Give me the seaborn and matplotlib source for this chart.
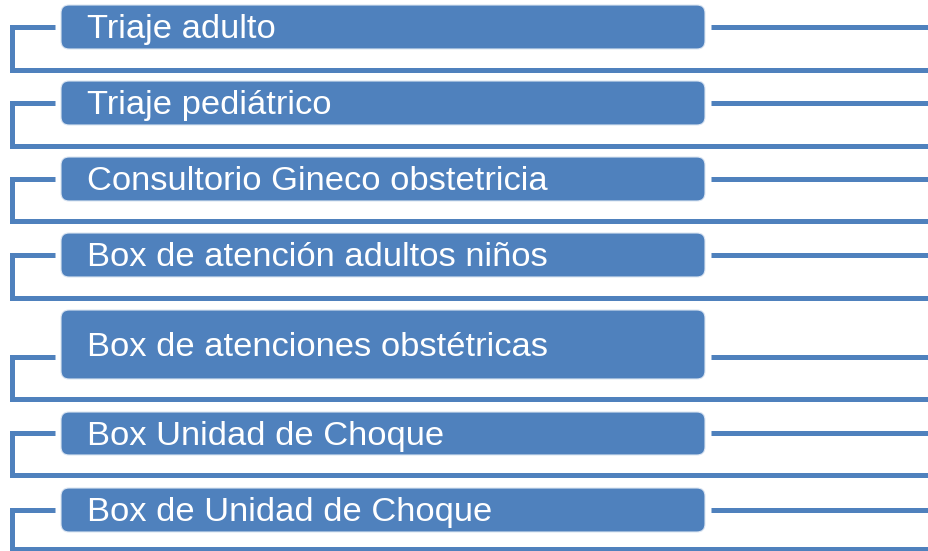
import matplotlib
matplotlib.use("Agg")
import matplotlib.pyplot as plt
from matplotlib.patches import FancyBboxPatch
import seaborn as sns

labels = [
    "Triaje adulto",
    "Triaje pediátrico",
    "Consultorio Gineco obstetricia",
    "Box de atención adultos niños",
    "Box de atenciones obstétricas",
    "Box Unidad de Choque",
    "Box de Unidad de Choque",
]

# layout (pixels): box top, box bottom, connector y, bracket bottom y
box_top = [5, 81, 157, 233, 310, 412, 488]
box_bot = [49, 125, 201, 277, 379, 455, 532]
conn_y = [27, 103, 179, 255, 357, 433, 510]
brk_y = [70, 146, 221, 298, 399, 475, 549]

sns.set_theme(style="white")
plt.rcParams["font.family"] = ["Liberation Sans", "DejaVu Sans"]

W, H = 929, 551
fig = plt.figure(figsize=(W / 100, H / 100), dpi=100)
ax = fig.add_axes([0, 0, 1, 1])
ax.set_xlim(0, W)
ax.set_ylim(H, 0)
ax.axis("off")

col = "#4F81BD"
lw = 3.6
x_left, x_box0, x_box1, x_r0 = 12.5, 61, 705, 711

for lab, t, b, cy, by in zip(labels, box_top, box_bot, conn_y, brk_y):
    # left bracket
    ax.plot([55, x_left, x_left, W + 5], [cy, cy, by, by], color=col, lw=lw,
            solid_joinstyle="miter", solid_capstyle="butt")
    # right line
    ax.plot([x_r0, W + 5], [cy, cy], color=col, lw=lw, solid_capstyle="butt")
    # box
    r = 8
    box = FancyBboxPatch((x_box0 + r, t + r), (x_box1 - x_box0) - 2 * r, (b - t) - 2 * r,
                         boxstyle=f"round,pad={r}", fc=col, ec="#DCE6F2", lw=0.8)
    ax.add_patch(box)
    ax.text(87, (t + b) / 2 + 2.5, lab, color="white", fontsize=24.8,
            ha="left", va="center")

fig.savefig("out.png", dpi=100, facecolor="white")
